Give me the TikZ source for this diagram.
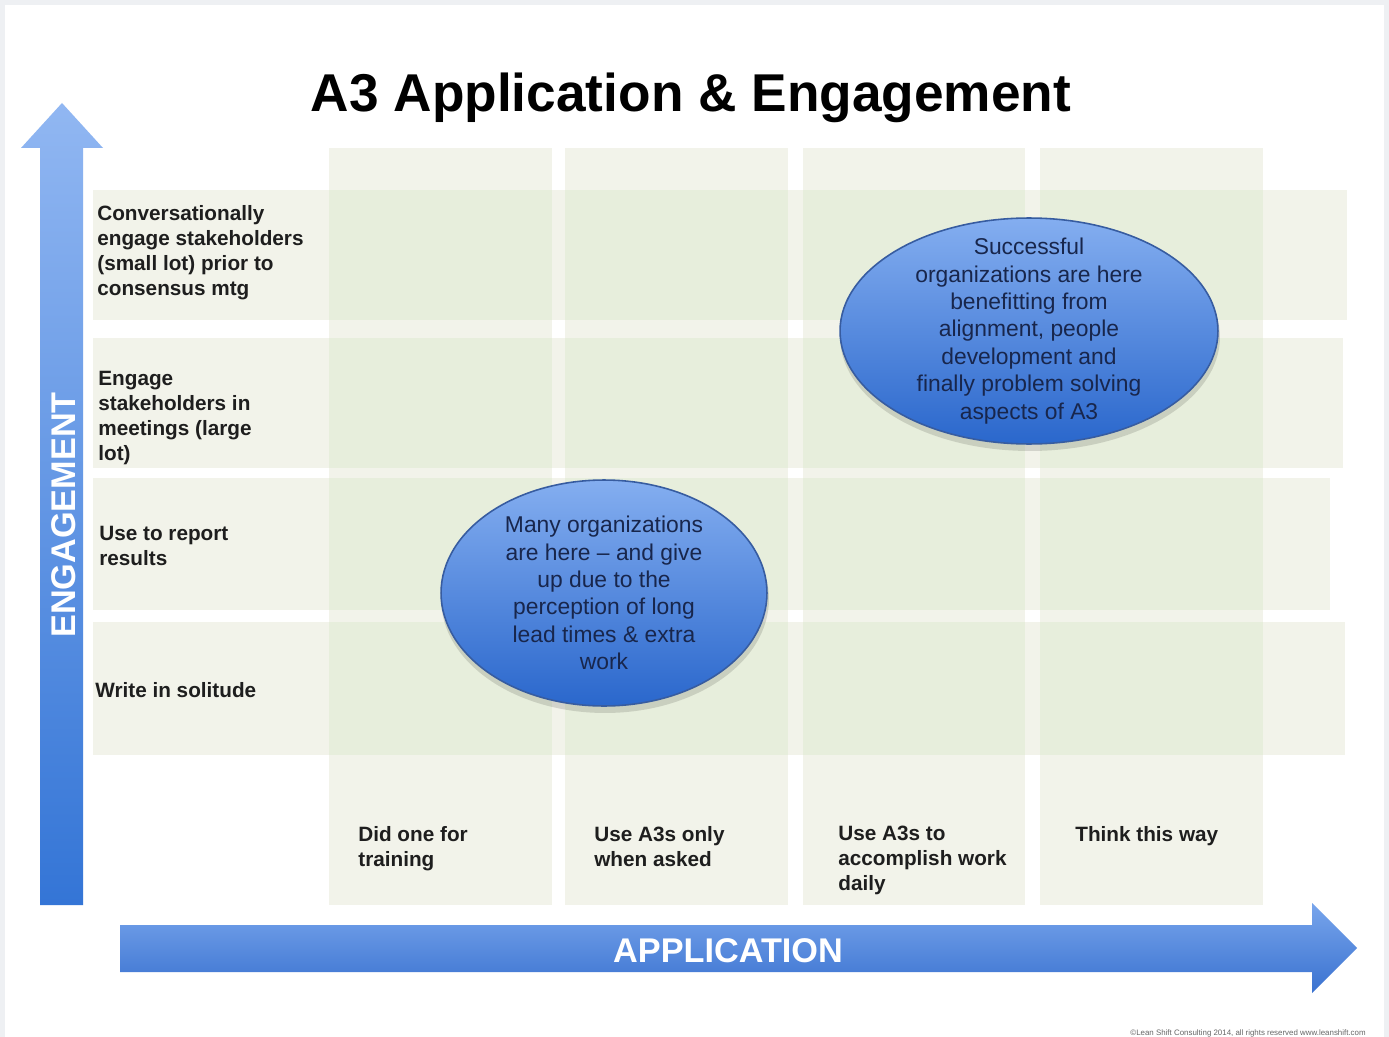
\documentclass[tikz,border=0pt]{standalone}
\usepackage{fontspec}
\setmainfont{Liberation Sans}
\usetikzlibrary{shapes.geometric}
\definecolor{pagebg}{RGB}{238,240,243}
\definecolor{cellbg}{RGB}{242,243,234}
\definecolor{cellx}{RGB}{231,238,220}
\definecolor{labeltext}{RGB}{30,30,30}
\definecolor{arrowtop}{RGB}{145,183,242}
\definecolor{arrowbot}{RGB}{52,117,214}
\definecolor{htop}{RGB}{120,165,236}
\definecolor{hbot}{RGB}{58,114,208}
\definecolor{elltop}{RGB}{132,174,240}
\definecolor{ellbot}{RGB}{42,103,204}
\definecolor{ellline}{RGB}{55,92,160}
\definecolor{elltext}{RGB}{24,38,76}
\begin{document}
\begin{tikzpicture}[x=0.02cm,y=-0.02cm,
  band/.style={fill=cellbg},
  cross/.style={fill=cellx},
  rowlabel/.style={anchor=north west,inner sep=0pt,align=left,text=labeltext,
    font=\bfseries\fontsize{11.8}{14.2}\selectfont},
  axislabel/.style={anchor=base,inner sep=0pt,text=white,
    font=\bfseries\fontsize{19.5}{22}\selectfont},
  bubble/.style={top color=elltop,bottom color=ellbot,draw=ellline,line width=0.9pt},
  bubbleshadow/.style={fill=black,opacity=0.13},
  bubbletext/.style={inner sep=0pt,align=center,text=elltext,
    font=\fontsize{13}{15.6}\selectfont},
  bigarrow/.style={top color=arrowtop,bottom color=arrowbot},
  harrow/.style={top color=htop,bottom color=hbot}
]
\useasboundingbox (0,0) rectangle (1389,1037);
% page and slide
\fill[pagebg] (0,0) rectangle (1389,1037);
\fill[white] (5,5) rectangle (1384,1037);

% title
\node[anchor=base,inner sep=0pt,font=\bfseries\fontsize{30.3}{36}\selectfont] (title)
  at (691,112) {A3 Application \& Engagement};

% engagement rows and application columns
\foreach \ya/\yb/\xe in {190/320/1347, 338/468/1343, 478/610/1330, 622/755/1345}
  \fill[band] (93,\ya) rectangle (\xe,\yb);
\foreach \xa/\xb in {329/552, 565/788, 803/1025, 1040/1263}
  \fill[band] (\xa,148) rectangle (\xb,905);
\foreach \ya/\yb in {190/320, 338/468, 478/610, 622/755}
  \foreach \xa/\xb in {329/552, 565/788, 803/1025, 1040/1263}
    \fill[cross] (\xa,\ya) rectangle (\xb,\yb);

% row labels
\node[rowlabel] (r1) at (97,205) {Conversationally\\engage stakeholders\\(small lot) prior to\\consensus mtg};
\node[rowlabel] (r2) at (98,371) {Engage\\stakeholders in\\meetings (large\\lot)};
\node[rowlabel] (r3) at (99,526) {Use to report\\results};
\node[rowlabel] (r4) at (95,682) {Write in solitude};

% column labels
\node[rowlabel] (c1) at (358,826) {Did one for\\training};
\node[rowlabel] (c2) at (594,826) {Use A3s only\\when asked};
\node[rowlabel] (c3) at (838,826) {Use A3s to\\accomplish work\\daily};
\node[rowlabel] (c4) at (1075,826) {Think this way};

% bubbles
\fill[bubbleshadow] (605,599) ellipse [x radius=3.28cm, y radius=2.28cm];
\path[bubble] (604,593) ellipse [x radius=3.26cm, y radius=2.26cm];
\node[bubbletext] (b1) at (604,593) {Many organizations\\are here -- and give\\up due to the\\perception of long\\lead times \& extra\\work};

\fill[bubbleshadow] (1030,337) ellipse [x radius=3.80cm, y radius=2.28cm];
\path[bubble] (1029,331) ellipse [x radius=3.78cm, y radius=2.26cm];
\node[bubbletext] (b2) at (1029,331) {Successful\\organizations are here\\benefitting from\\alignment, people\\development and\\finally problem solving\\aspects of A3};

% engagement axis
\path[bigarrow] (40,905) -- (40,148) -- (21,148) -- (62,103) -- (103,148)
  -- (83,148) -- (83,905) -- cycle;
\node[axislabel,rotate=90] (engagement) at (75,515) {ENGAGEMENT};

% application axis
\path[harrow] (120,925) -- (1312,925) -- (1312,903) -- (1357,948)
  -- (1312,993) -- (1312,972) -- (120,972) -- cycle;
\node[axislabel] (application) at (728,962) {APPLICATION};

% footer
\node[anchor=base east,inner sep=0pt,text=black!60,font=\fontsize{4.5}{5}\selectfont] (footer)
  at (1366,1035) {\textcopyright Lean Shift Consulting 2014, all rights reserved www.leanshift.com};
\end{tikzpicture}
\end{document}
